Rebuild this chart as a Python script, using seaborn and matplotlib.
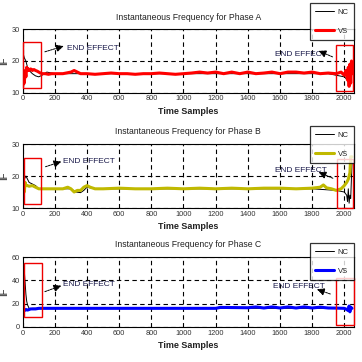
import matplotlib
matplotlib.use("Agg")
import matplotlib.pyplot as plt
import seaborn as sns
from matplotlib.patches import Rectangle
from matplotlib.lines import Line2D

# ---------------- data ----------------
titles = ["Instantaneous Frequency for Phase A",
          "Instantaneous Frequency for Phase B",
          "Instantaneous Frequency for Phase C"]
series_names = ["NC", "VS"]
vs_colors = ["#ff0000", "#c0b900", "#0000ff"]

# Phase A
a_vs_x = [0, 5, 10, 15, 20, 25, 30, 35, 40, 50, 60, 70, 80, 90, 100, 110, 120, 140, 160, 180,
          200, 250, 300, 320, 340, 360, 400, 450, 500, 550, 600, 650, 700, 750, 800, 850, 900,
          950, 1000, 1050, 1100, 1150, 1200, 1250, 1300, 1350, 1400, 1450, 1500, 1550, 1600,
          1650, 1700, 1750, 1800, 1850, 1900, 1950, 1980, 2000, 2010, 2020, 2025, 2030, 2035,
          2040, 2045, 2048]
a_vs_y = [12, 14, 13, 17, 15, 18, 17, 17.5, 17, 17.5, 17, 17.3, 17, 16.8, 16.5, 16.2, 16, 16,
          15.8, 16, 16, 16, 16.5, 17, 16.5, 16, 16, 15.8, 16, 16.2, 16, 16, 15.8, 16, 16, 16.2,
          16, 15.8, 16, 16.2, 16.5, 16.2, 16.5, 16, 16.5, 16, 16.5, 16, 16.2, 16.5, 16, 16.5,
          16.5, 16.2, 16.5, 16, 16.2, 16, 16.5, 15.5, 17, 14, 18, 12, 19, 13, 20, 16]
a_nc_x = [0, 5, 10, 20, 30, 40, 50, 60, 80, 100, 120, 150, 200, 300, 500, 800, 1200, 1600,
          1900, 1950, 2000, 2010, 2020, 2030, 2040, 2048]
a_nc_y = [20, 22, 21, 20, 18, 17, 16.5, 16, 15.3, 15, 15.5, 16.5, 16, 16, 16, 16, 16, 16,
          16, 15.5, 15, 14.5, 14, 17, 15, 18]

# Phase B
b_vs_x = [0, 5, 10, 15, 20, 30, 40, 60, 80, 100, 150, 200, 250, 280, 300, 320, 340, 360, 380,
          400, 420, 450, 500, 600, 700, 800, 900, 1000, 1100, 1200, 1300, 1400, 1500, 1600,
          1700, 1800, 1850, 1870, 1890, 1920, 1950, 1980, 2000, 2015, 2025, 2035, 2040, 2048]
b_vs_y = [19, 17, 15, 18, 17, 17, 16.8, 17, 16.5, 16, 16, 16, 16, 16.5, 16, 15, 15.5, 15.5,
          16.5, 17, 16.5, 16, 16, 16.2, 16, 16, 16.2, 16, 16.2, 16, 16.2, 16, 16.2, 16.2, 16,
          16.2, 16.5, 17.2, 16.3, 16, 15.5, 16, 17, 18, 19, 21, 26, 26]
b_nc_x = [0, 10, 20, 30, 40, 60, 80, 100, 150, 300, 330, 360, 380, 400, 450, 600, 1200, 1800,
          1950, 2000, 2015, 2020, 2025, 2030, 2035, 2040, 2045, 2048]
b_nc_y = [18, 19, 20, 19, 18, 17.5, 17, 16, 16, 16, 15, 14.8, 15.5, 16.5, 16, 16, 16, 16,
          15.5, 15, 14, 12, 16, 11.5, 14, 13, 20, 24]

# Phase C
c_vs_x = [0, 10, 20, 30, 50, 80, 100, 200, 400, 600, 800, 1000, 1200, 1230, 1400, 1450, 1500,
          1550, 1600, 1650, 1700, 1750, 1800, 1850, 1900, 1950, 2000, 2015, 2025, 2030, 2035,
          2040, 2048]
c_vs_y = [16, 14, 15, 14.5, 15.5, 15.5, 16, 16, 16, 16, 16, 16, 16, 16.8, 16.5, 17.2, 16.3,
          17.2, 16.3, 17.2, 16.3, 17.2, 16.3, 17, 16.3, 16.2, 16, 15, 14, 18, 13, 17, 16]
c_nc_x = [0, 5, 10, 15, 20, 25, 30, 40, 50, 60, 100, 500, 1000, 1500, 2000, 2048]
c_nc_y = [50, 55, 48, 38, 28, 22, 19, 16, 15.5, 16, 16, 16, 16, 16, 16, 16]

phase_vs = [(a_vs_x, a_vs_y), (b_vs_x, b_vs_y), (c_vs_x, c_vs_y)]
phase_nc = [(a_nc_x, a_nc_y), (b_nc_x, b_nc_y), (c_nc_x, c_nc_y)]

x_ticks = list(range(0, 2001, 200))
y_ticks = [[10, 20, 30], [10, 20, 30], [0, 20, 40, 60]]
y_limits = [(10, 30), (10, 30), (0, 60)]

# red "end effect" boxes: (x0, y0, x1, y1)
boxes = [[(4, 11.4, 115, 25.9), (1948, 10.5, 2057, 25)],
         [(8, 11.25, 115, 25.5), (1954, 10.1, 2057, 25.2)],
         [(8, 8.8, 121, 54.6), (1949, 1.7, 2063, 41.7)]]
# annotations: (text x, text y, tail x, tail y, head x, head y)
left_notes = [(274, 24.1, 138, 22.9, 255, 24.7),
              (250, 24.5, 142, 22.9, 240, 24.5),
              (250, 36.6, 138, 30.3, 240, 35.4)]
right_notes = [(1568, 22.2, 1927, 21.3, 1840, 23.2),
               (1572, 21.7, 1929, 19.3, 1840, 21.2),
               (1558, 34.5, 1913, 28.3, 1830, 32.3)]
legend_tops = [1.415, 1.28, 1.2]
note_text = "END EFFECT"

# ---------------- figure ----------------
sns.set_style("white")
plt.rcParams["font.family"] = ["Liberation Sans", "DejaVu Sans"]

fig = plt.figure(figsize=(3.62, 3.62), dpi=100)
fig.patch.set_facecolor("white")
axes_pos = [[0.0627, 0.744, 0.915, 0.175],
            [0.0627, 0.4254, 0.915, 0.1768],
            [0.0627, 0.0967, 0.915, 0.1933]]

for i in range(3):
    ax = fig.add_axes(axes_pos[i])
    nx, ny = phase_nc[i]
    vx, vy = phase_vs[i]
    sns.lineplot(x=nx, y=ny, ax=ax, color="black", linewidth=0.7, estimator=None, sort=False)
    sns.lineplot(x=vx, y=vy, ax=ax, color=vs_colors[i], linewidth=2.2, estimator=None, sort=False)
    ax.set_xlim(0, 2060)
    ax.set_ylim(*y_limits[i])
    ax.set_xticks(x_ticks)
    ax.set_yticks(y_ticks[i])
    ax.tick_params(labelsize=5.3, length=2, direction="in", pad=2, colors="#333333")
    for lab in ax.get_xticklabels() + ax.get_yticklabels():
        lab.set_color("#333333")
    ax.grid(True, color="black", linestyle=(0, (4, 3)), linewidth=0.8)
    for s in ax.spines.values():
        s.set_color("black")
        s.set_linewidth(0.8)
    ax.set_title(titles[i], fontsize=6.2, pad=7, color="#222222")
    ax.set_xlabel("Time Samples", fontsize=6.5, fontweight="bold", labelpad=3, color="#222222")
    ax.set_ylabel("IF", fontsize=7, labelpad=2, color="#222222")
    for (x0, y0, x1, y1) in boxes[i]:
        ax.add_patch(Rectangle((x0, y0), x1 - x0, y1 - y0, fill=False, edgecolor="#ee0000",
                               linewidth=1.0, clip_on=False, zorder=5))
    for (tx, ty, ax0, ay0, hx, hy) in [left_notes[i], right_notes[i]]:
        ax.text(tx, ty, note_text, fontsize=6, va="center", ha="left", color="#1a1a4a")
        ax.annotate("", xy=(hx, hy), xytext=(ax0, ay0),
                    arrowprops=dict(arrowstyle="-|>,head_length=0.45,head_width=0.22",
                                    color="black", linewidth=0.7, linestyle=(0, (2, 1)),
                                    shrinkA=0, shrinkB=0))
    handles = [Line2D([], [], color="black", linewidth=0.7),
               Line2D([], [], color=vs_colors[i], linewidth=2.2)]
    leg = ax.legend(handles, series_names, loc="upper right", bbox_to_anchor=(1.0, legend_tops[i]),
                    fontsize=5.5, frameon=True, fancybox=False, edgecolor="black",
                    handlelength=2.4, labelspacing=1.5, borderpad=0.7, handletextpad=0.5,
                    borderaxespad=0)
    leg.get_frame().set_linewidth(0.9)
    leg.set_zorder(10)

fig.savefig("out.png", dpi=100, facecolor="white")
